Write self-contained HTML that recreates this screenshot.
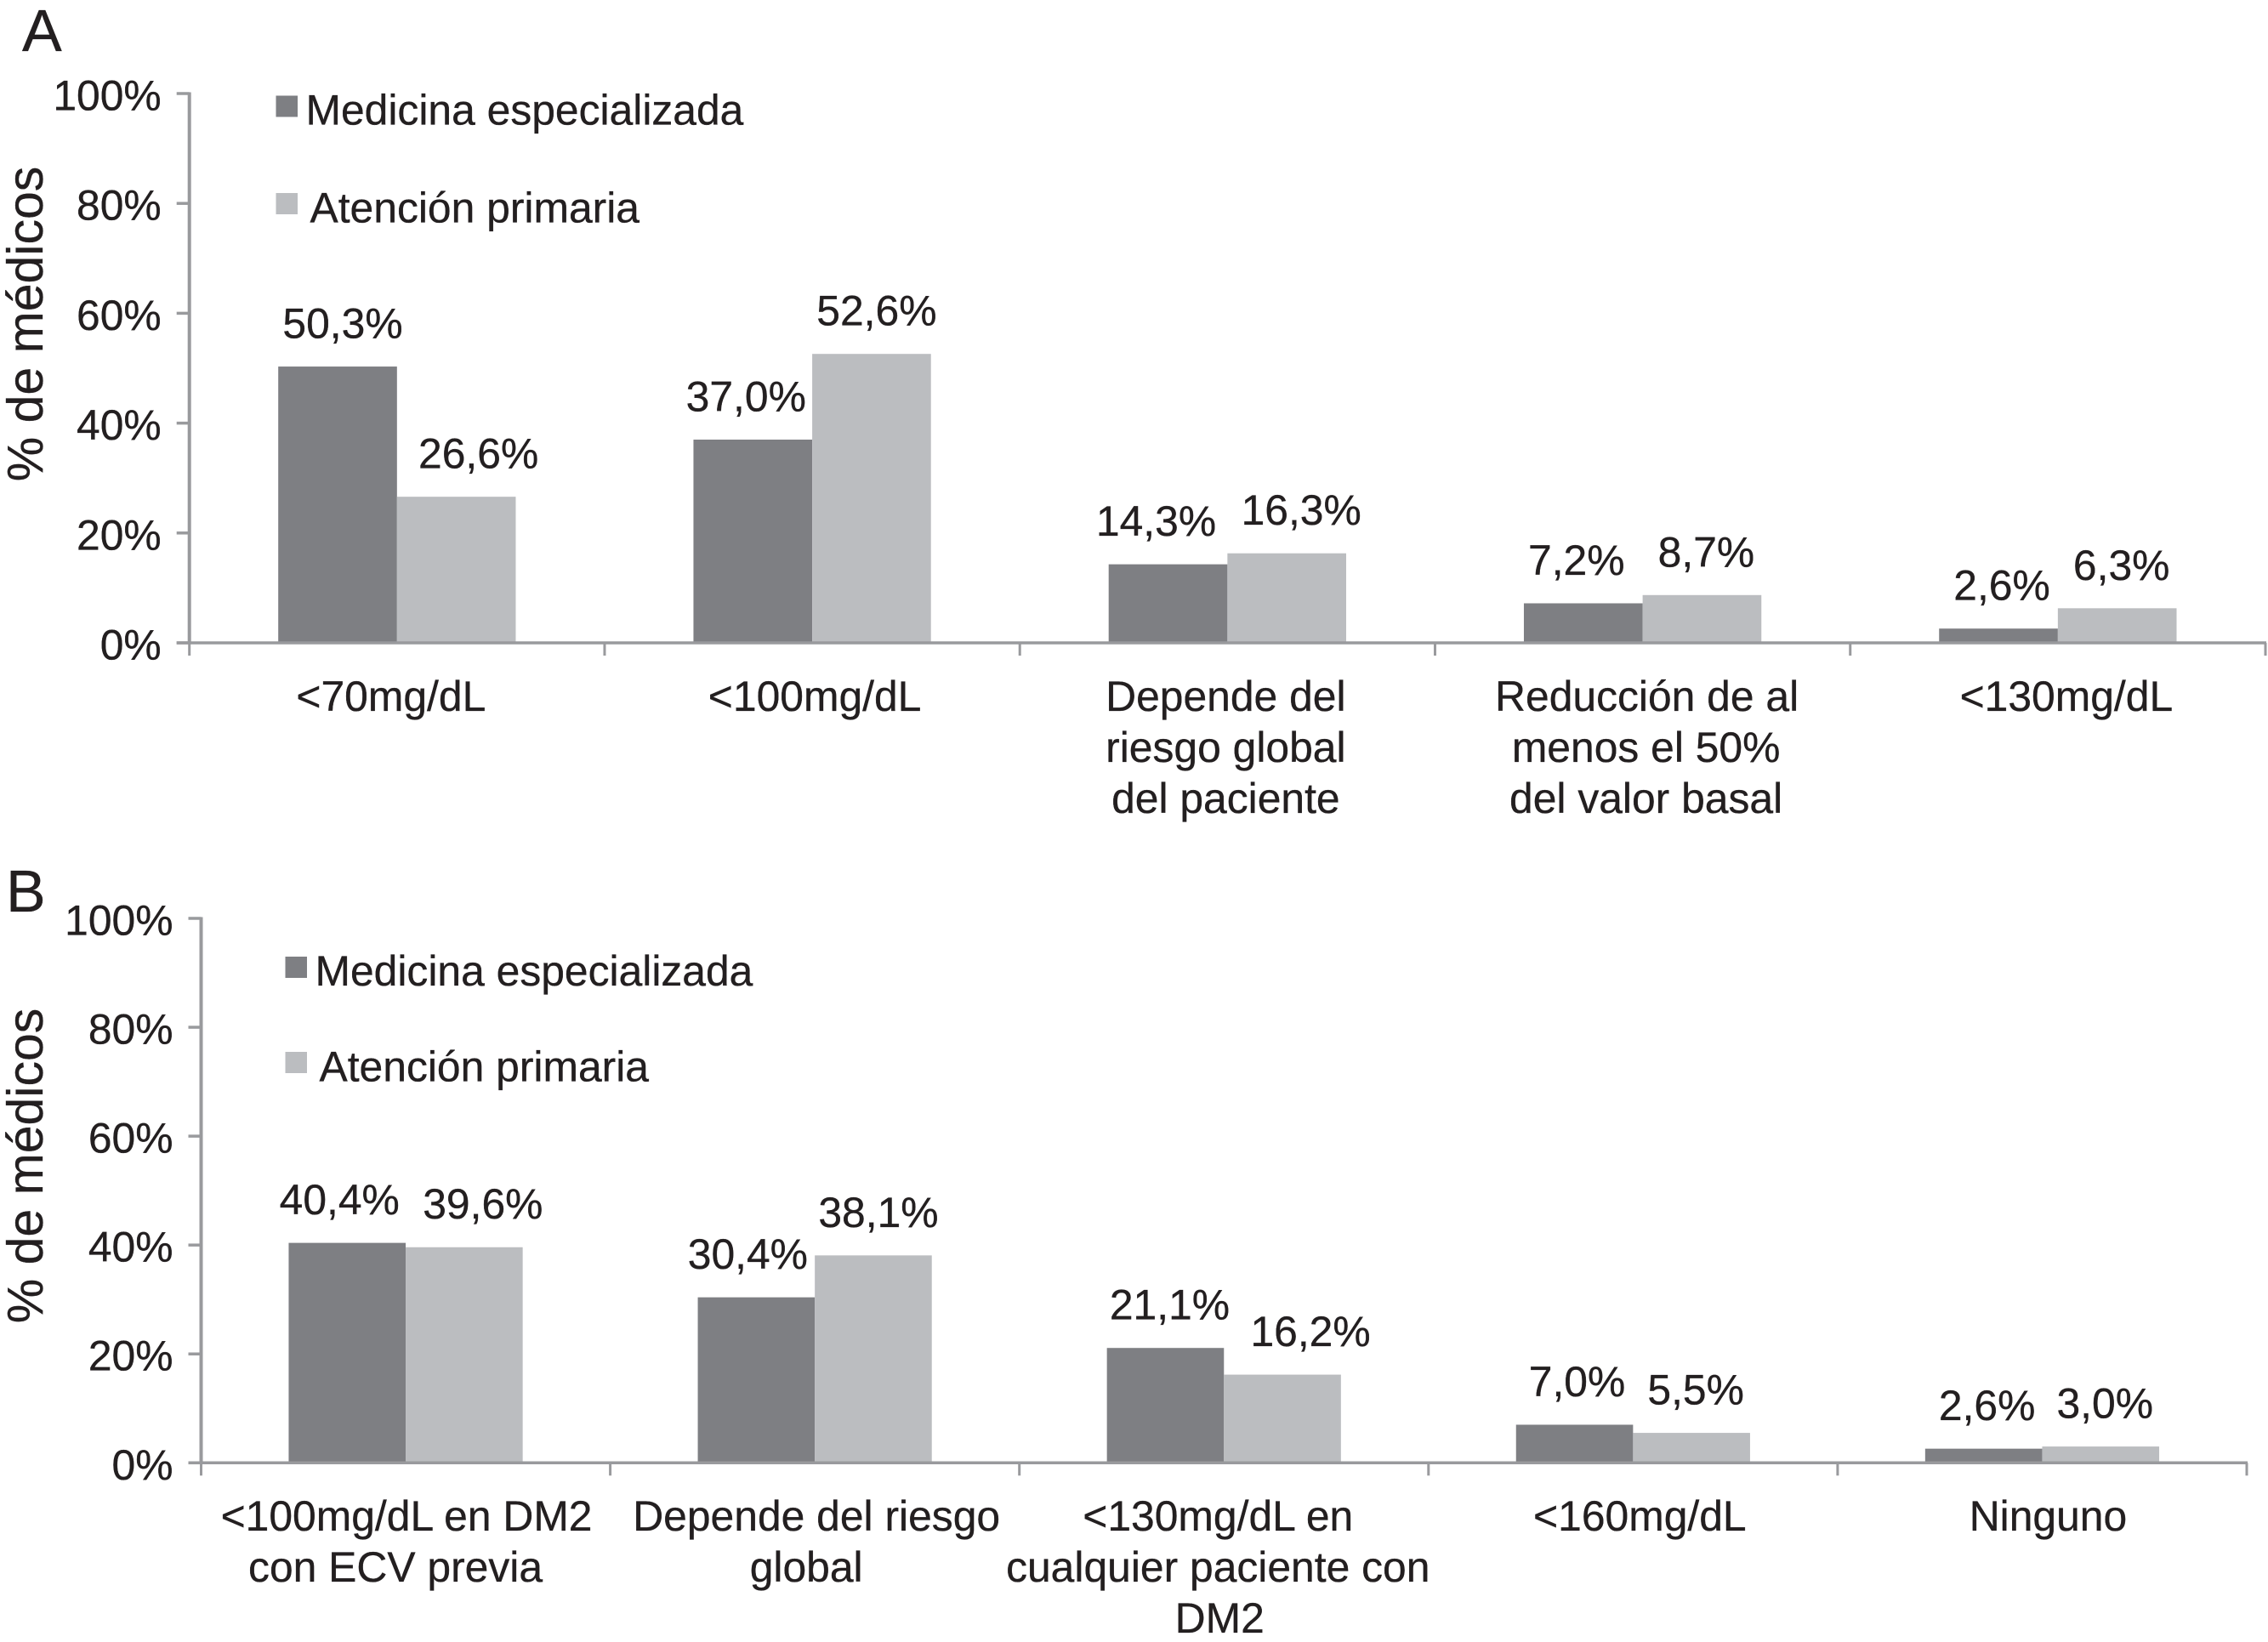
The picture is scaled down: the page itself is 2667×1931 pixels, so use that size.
<!DOCTYPE html>
<html lang="es">
<head>
<meta charset="utf-8">
<title>% de médicos</title>
<style>
html,body{margin:0;padding:0;background:#fff;}
svg{display:block;}
text{font-family:"Liberation Sans",sans-serif;fill:#231f20;stroke:#231f20;stroke-width:0.35px;}
</style>
</head>
<body>
<svg id="chart" xmlns="http://www.w3.org/2000/svg" width="2667" height="1931" viewBox="0 0 2667 1931"></svg>
<script>
const yTickValues = [0, 20, 40, 60, 80, 100];
const legendLabels = ["Medicina especializada", "Atención primaria"];
const axisTitle = "% de médicos";

const categoriesA = [["<70mg/dL"], ["<100mg/dL"], ["Depende del", "riesgo global", "del paciente"], ["Reducción de al", "menos el 50%", "del valor basal"], ["<130mg/dL"]];
const especializadaA = [50.3, 37.0, 14.3, 7.2, 2.6];
const primariaA = [26.6, 52.6, 16.3, 8.7, 6.3];

const categoriesB = [["<100mg/dL en DM2", "con ECV previa"], ["Depende del riesgo", "global"], ["<130mg/dL en", "cualquier paciente con", "DM2"], ["<160mg/dL"], ["Ninguno"]];
const especializadaB = [40.4, 30.4, 21.1, 7.0, 2.6];
const primariaB = [39.6, 38.1, 16.2, 5.5, 3.0];

const SVG_NS = "http://www.w3.org/2000/svg";
const chart = document.getElementById("chart");
const DARK = "#7e7f83";
const LIGHT = "#bbbdc0";
const AXIS = "#999a9d";
const FONT = 49.8;

function make(parent, tag, attrs, content) {
  const el = document.createElementNS(SVG_NS, tag);
  for (const k in attrs) el.setAttribute(k, attrs[k]);
  if (content !== undefined) el.textContent = content;
  parent.appendChild(el);
  return el;
}

function formatValue(v) {
  return v.toFixed(1).replace(".", ",") + "%";
}

function drawPanel(p) {
  const group = make(chart, "g", {});
  
  

  const y = v => p.y0 - (v / 100) * (p.y0 - p.y100);
  const band = (p.xEnd - p.x0) / p.categories.length;
  const xCenter = i => p.x0 + band * (i + 0.5);
  const barW = band * 0.286;

  const letter = make(group, "text", {x: p.letterX, y: p.letterY, "font-size": 70}, p.letter);
  
  

  const title = make(group, "text", {
    x: 0, y: 0, "font-size": 59, "text-anchor": "middle",
    transform: "translate(50 " + p.titleY + ") rotate(-90)"
  }, axisTitle);
  
  

  // bars
  [p.seriesA, p.seriesB].forEach((series, s) => {
    series.forEach((v, i) => {
      const left = xCenter(i) - barW + s * barW;
      const bar = make(group, "rect", {x: left, y: y(v), width: barW, height: y(0) - y(v), fill: s === 0 ? DARK : LIGHT});
      
      

      const nudge = (s === 0 ? p.nudgeA : p.nudgeB)[i];
      const label = make(group, "text", {
        x: left + barW / 2 + nudge, y: y(v) - 33.5, "font-size": FONT, "text-anchor": "middle"
      }, formatValue(v));
      
      
    });
  });

  // axes
  const yAxis = make(group, "line", {x1: p.x0, x2: p.x0, y1: y(100) - 1.5, y2: y(0), stroke: AXIS, "stroke-width": 4});
  
  

  const xAxis = make(group, "line", {x1: p.x0 - 15, x2: p.xEnd + 1, y1: y(0), y2: y(0), stroke: AXIS, "stroke-width": 3.5});
  
  

  yTickValues.forEach(t => {
    const tick = make(group, "line", {x1: p.x0 - 15, x2: p.x0, y1: y(t), y2: y(t), stroke: AXIS, "stroke-width": 3.5});
    
    

    const tl = make(group, "text", {x: p.x0 - 33, y: y(t) + 19.5, "font-size": FONT, "text-anchor": "end"}, t + "%");
    
    
  });

  for (let i = 0; i <= p.categories.length; i++) {
    const cx = p.x0 + band * i;
    const tick = make(group, "line", {x1: cx, x2: cx, y1: y(0), y2: y(0) + 15, stroke: AXIS, "stroke-width": 3});
    
    
  }

  p.categories.forEach((lines, i) => {
    lines.forEach((line, j) => {
      const cl = make(group, "text", {
        x: xCenter(i) + p.catNudge[i][j], y: p.catY + j * 60, "font-size": FONT, "text-anchor": "middle"
      }, line);
      
      
    });
  });

  // legend
  const sw1 = make(group, "rect", {x: p.legendX, y: p.legendY1, width: 25.5, height: 25, fill: DARK});
  
  

  const lg1 = make(group, "text", {x: p.legendX + 35, y: p.legendY1 + 34, "font-size": FONT}, legendLabels[0]);
  
  

  const sw2 = make(group, "rect", {x: p.legendX, y: p.legendY2, width: 25.5, height: 25, fill: LIGHT});
  
  

  const lg2 = make(group, "text", {x: p.legendX + 40, y: p.legendY2 + 34.5, "font-size": FONT}, legendLabels[1]);
  
  
}

drawPanel({
  id: "a", letter: "A", letterX: 26, letterY: 60, titleY: 381,
  x0: 222.7, xEnd: 2664, y0: 756, y100: 110, catY: 836,
  legendX: 324.5, legendY1: 112.5, legendY2: 227,
  categories: categoriesA, seriesA: especializadaA, seriesB: primariaA,
  nudgeA: [6, -8, -14, -8, 4], nudgeB: [26, 6, 17, 5, 5],
  catNudge: [[-7], [3], [-2, -2, -2], [5, 4, 4], [10]]
});

drawPanel({
  id: "b", letter: "B", letterX: 7, letterY: 1072, titleY: 1371,
  x0: 236.5, xEnd: 2642, y0: 1720.3, y100: 1080, catY: 1800,
  legendX: 335.5, legendY1: 1125, legendY2: 1237,
  categories: categoriesB, seriesA: especializadaB, seriesB: primariaB,
  nudgeA: [-9, -10, 5, 3, 4], nudgeB: [22, 6, 33, 5, 5],
  catNudge: [[1, -12], [2, -10], [-7, -7, -5], [8], [7]]
});
</script>
</body>
</html>
